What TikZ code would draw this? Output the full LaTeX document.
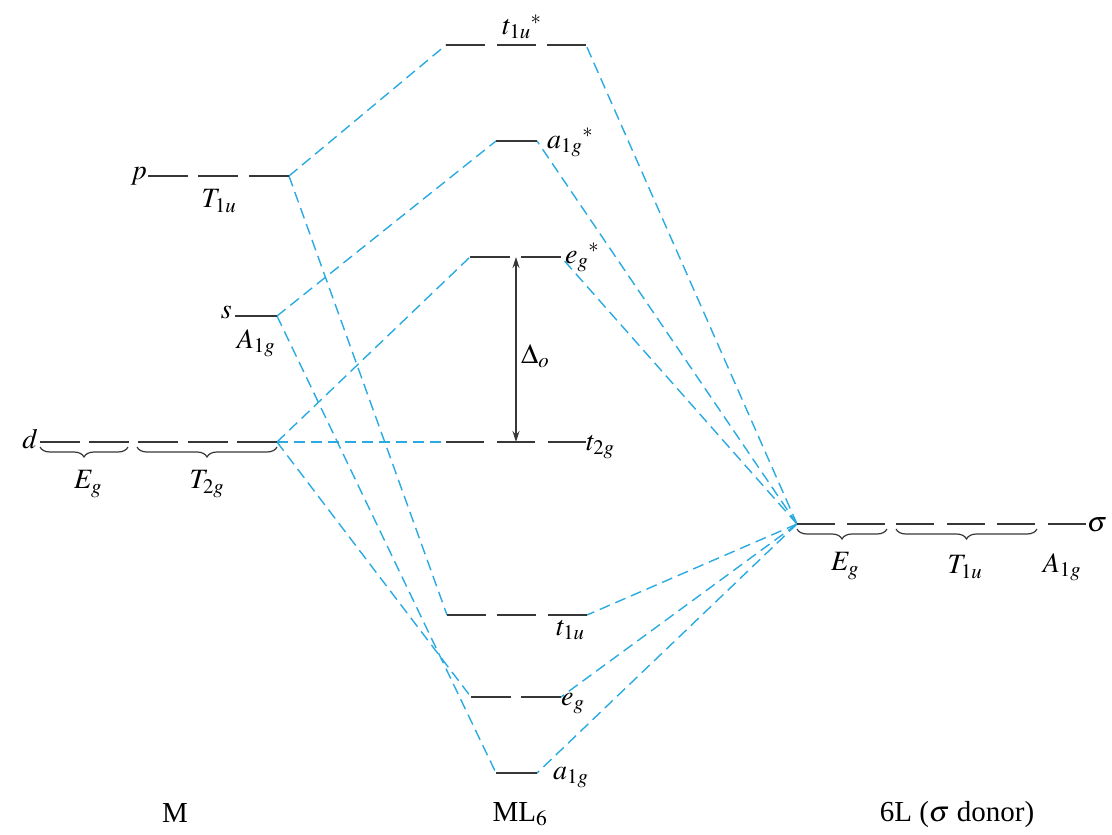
\documentclass[tikz,border=0pt]{standalone}
\usepackage{mathptmx}
\usepackage[no-math]{fontspec}
\setmainfont{Liberation Serif}
\usetikzlibrary{decorations.pathreplacing}
\usetikzlibrary{arrows.meta}
\definecolor{mixblue}{RGB}{41,171,226}
\definecolor{lvlgray}{RGB}{55,55,55}

\begin{document}
\begin{tikzpicture}[x=1pt,y=-1pt,
  lvl/.style={lvlgray, line width=1.6pt},
  mix/.style={mixblue, line width=1.4pt, dash pattern=on 11pt off 6pt},
  lab/.style={font=\fontsize{28}{32}\selectfont, inner sep=0pt},
  ttl/.style={font=\fontsize{29}{34}\selectfont, inner sep=0pt},
  brc/.style={lvlgray, line width=1.2pt, decorate, decoration={brace, mirror, amplitude=10pt}}]

\useasboundingbox (0,0) rectangle (1112,835);

%---------------------------------------
% Level heights
%---------------------------------------
\def\yP{176}     % metal p
\def\yS{316}     % metal s
\def\yD{442}     % metal d
\def\yTus{45}    % t1u*
\def\yAgs{141}   % a1g*
\def\yEgs{257}   % eg*
\def\yTtg{442}   % t2g
\def\yTu{615}    % t1u
\def\yEg{697}    % eg
\def\yAg{773}    % a1g
\def\yL{524}     % ligand sigma

% end points of the levels
\coordinate (pR) at (289,\yP);
\coordinate (sR) at (277,\yS);
\coordinate (dR) at (277,\yD);
\coordinate (tusL) at (446,\yTus);  \coordinate (tusR) at (586,\yTus);
\coordinate (agsL) at (496,\yAgs);  \coordinate (agsR) at (537,\yAgs);
\coordinate (egsL) at (470,\yEgs);  \coordinate (egsR) at (561,\yEgs);
\coordinate (ttgL) at (446,\yTtg);
\coordinate (tuL) at (447,\yTu);    \coordinate (tuR) at (587,\yTu);
\coordinate (egL) at (471,\yEg);    \coordinate (egR) at (561,\yEg);
\coordinate (agL) at (496,\yAg);    \coordinate (agR) at (537,\yAg);
\coordinate (sigL) at (797,\yL);

%====================================================
% Mixing lines
%====================================================
\draw[mix] (pR) -- (tusL);
\draw[mix] (pR) -- (tuL);
\draw[mix] (sR) -- (agsL);
\draw[mix] (sR) -- (agL);
\draw[mix] (dR) -- (egsL);
\draw[mix] (dR) -- (ttgL);
\draw[mix] (dR) -- (egL);

\foreach \e in {tusR,agsR,egsR,tuR,egR,agR}
  \draw[mix] (sigL) -- (\e);

%====================================================
% LEFT: metal M
%====================================================
\begin{scope}
  \foreach \x in {148,198,249} \draw[lvl] (\x,\yP) -- ++(40,0);
  \node[lab, anchor=east] (pLab) at (147,\yP) {$p$};
  \node[lab] (TuM) at (219,201) {$T_{1u}$};

  \draw[lvl] (235,\yS) -- (sR);
  \node[lab, anchor=base east] (sLab) at (232,318) {$s$};
  \node[lab] (AgM) at (256,343) {$A_{1g}$};

  \foreach \x in {40,89,138,188,237} \draw[lvl] (\x,\yD) -- ++(40,0);
  \node[lab, anchor=base east] (dLab) at (38,448) {$d$};
  \draw[brc] (40,447) -- (128,447);
  \draw[brc] (137,447) -- (277,447);
  \node[lab] (EgM) at (88,484) {$E_g$};
  \node[lab] (TtgM) at (207,484) {$T_{2g}$};

  \node[ttl, anchor=base] (Mlab) at (175,822) {M};
\end{scope}

%====================================================
% MIDDLE: complex ML6
%====================================================
\begin{scope}
  \foreach \x in {446,497,547} \draw[lvl] (\x,\yTus) -- ++(39,0);
  \node[lab] (tusLab) at (522,27) {$t_{1u}{}^{*}$};

  \draw[lvl] (agsL) -- (agsR);
  \node[lab, anchor=base west] (agsLab) at (547,148) {$a_{1g}{}^{*}$};

  \foreach \x in {470,521} \draw[lvl] (\x,\yEgs) -- ++(40,0);
  \node[lab, anchor=base west] (egsLab) at (565,263) {$e_g{}^{*}$};

  \foreach \x in {446,497,548} \draw[lvl] (\x,\yTtg) -- ++(38,0);
  \node[lab, anchor=base west] (ttgLab) at (586,450) {$t_{2g}$};

  % splitting
  \coordinate (Dtop) at (516,\yEgs);
  \coordinate (Dbot) at (516,\yTtg);
  \draw[lvl, line width=1.3pt, {Stealth[length=11pt,width=7pt]}-{Stealth[length=11pt,width=7pt]}] (Dtop) -- (Dbot);
  \node[lab, anchor=base west] (DLab) at (521,363) {$\Delta_o$};

  \foreach \x in {447,497,548} \draw[lvl] (\x,\yTu) -- ++(39,0);
  \node[lab, anchor=base west] (tuLab) at (556,635) {$t_{1u}$};

  \foreach \x in {471,521} \draw[lvl] (\x,\yEg) -- ++(40,0);
  \node[lab, anchor=base west] (egLab) at (561,705) {$e_g$};

  \draw[lvl] (agL) -- (agR);
  \node[lab, anchor=base west] (agLab) at (553,779) {$a_{1g}$};

  \node[ttl, anchor=base] (MLlab) at (520,821) {ML$_6$};
\end{scope}

%====================================================
% RIGHT: ligands 6L
%====================================================
\begin{scope}
  \foreach \x in {797,847,896,947,997,1048} \draw[lvl] (\x,\yL) -- ++(38,0);
  \node[lab, anchor=base west] (sigLab) at (1087,531) {$\sigma$};
  \draw[brc] (797,529) -- (887,529);
  \draw[brc] (896,529) -- (1037,529);
  \node[lab] (EgL) at (845,566) {$E_g$};
  \node[lab] (TuL) at (965,567) {$T_{1u}$};
  \node[lab] (AgL) at (1062,567) {$A_{1g}$};

  \node[ttl, anchor=base] (Llab) at (957,821) {6L ($\sigma$ donor)};
\end{scope}

\end{tikzpicture}
\end{document}
